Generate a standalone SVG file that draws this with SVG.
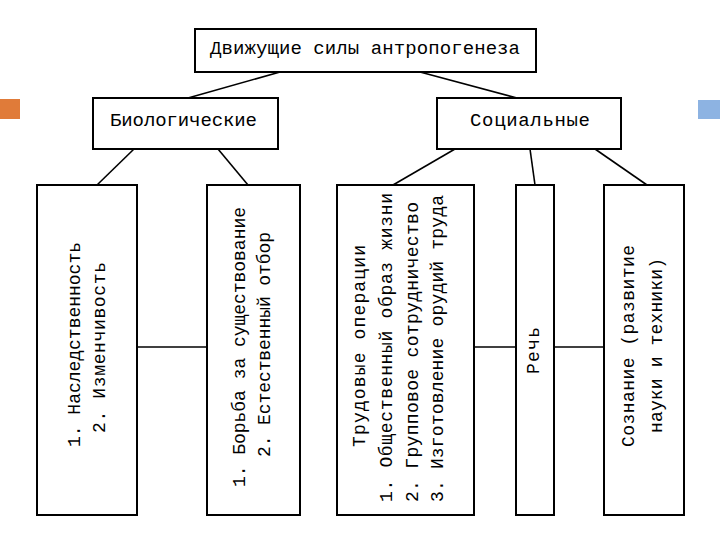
<svg xmlns="http://www.w3.org/2000/svg" width="720" height="540" viewBox="0 0 720 540">
<style>
.box{fill:#fff;stroke:#000;stroke-width:2}
.ln{stroke:#000;stroke-width:1.6;fill:none}
.t{font-family:"Liberation Mono","DejaVu Sans Mono",monospace;font-size:18px;fill:#000}
.h{font-family:"Liberation Mono","DejaVu Sans Mono",monospace;font-size:19px;fill:#000}
</style>
<rect width="720" height="540" fill="#fff"/>
<rect x="0" y="99" width="20" height="20" fill="#E07B39"/>
<rect x="698" y="100" width="22" height="19" fill="#8DB3E2"/>
<g id="connectors">
<line class="ln" x1="280" y1="72" x2="188" y2="98"/>
<line class="ln" x1="420" y1="72" x2="517" y2="98"/>
<line class="ln" x1="134" y1="149" x2="97" y2="185"/>
<line class="ln" x1="218" y1="149" x2="248" y2="185"/>
<line class="ln" x1="455" y1="149" x2="393" y2="185"/>
<line class="ln" x1="530" y1="149" x2="535" y2="185"/>
<line class="ln" x1="595" y1="149" x2="647" y2="185"/>
<line class="ln" x1="137" y1="347" x2="207" y2="347"/>
<line class="ln" x1="474" y1="347" x2="516" y2="347"/>
<line class="ln" x1="554" y1="347" x2="604" y2="347"/>
</g>
<g id="root">
<rect class="box" x="195" y="29" width="341" height="43"/>
<text class="h" x="210" y="54" textLength="310" lengthAdjust="spacing">Движущие силы антропогенеза</text>
</g>
<g id="bio">
<rect class="box" x="93" y="98" width="185" height="51"/>
<text class="h" x="110" y="126" textLength="147" lengthAdjust="spacing">Биологические</text>
</g>
<g id="soc">
<rect class="box" x="437" y="98" width="184" height="51"/>
<text class="h" x="470" y="126" textLength="120" lengthAdjust="spacing">Социальные</text>
</g>
<g id="b1">
<rect class="box" x="37" y="185" width="100" height="330"/>
<text class="t" transform="translate(80 447) rotate(-90)" textLength="205" lengthAdjust="spacing">1. Наследственность</text>
<text class="t" transform="translate(105 433) rotate(-90)" textLength="171" lengthAdjust="spacing">2. Изменчивость</text>
</g>
<g id="b2">
<rect class="box" x="207" y="185" width="93" height="330"/>
<text class="t" transform="translate(245 487) rotate(-90)" textLength="280" lengthAdjust="spacing">1. Борьба за существование</text>
<text class="t" transform="translate(270 457) rotate(-90)" textLength="225" lengthAdjust="spacing">2. Естественный отбор</text>
</g>
<g id="b3">
<rect class="box" x="337" y="185" width="137" height="330"/>
<text class="t" transform="translate(365 447) rotate(-90)" textLength="202" lengthAdjust="spacing">Трудовые операции</text>
<text class="t" transform="translate(392 502) rotate(-90)" textLength="309" lengthAdjust="spacing">1. Общественный образ жизни</text>
<text class="t" transform="translate(418 502) rotate(-90)" textLength="300" lengthAdjust="spacing">2. Групповое сотрудничество</text>
<text class="t" transform="translate(443 502) rotate(-90)" textLength="307" lengthAdjust="spacing">3. Изготовление орудий труда</text>
</g>
<g id="b4">
<rect class="box" x="516" y="185" width="38" height="330"/>
<text class="t" transform="translate(539 374) rotate(-90)" textLength="47" lengthAdjust="spacing">Речь</text>
</g>
<g id="b5">
<rect class="box" x="604" y="185" width="80" height="330"/>
<text class="t" transform="translate(634 447) rotate(-90)" textLength="202" lengthAdjust="spacing">Сознание (развитие</text>
<text class="t" transform="translate(662 433) rotate(-90)" textLength="175" lengthAdjust="spacing">науки и техники)</text>
</g>
</svg>
